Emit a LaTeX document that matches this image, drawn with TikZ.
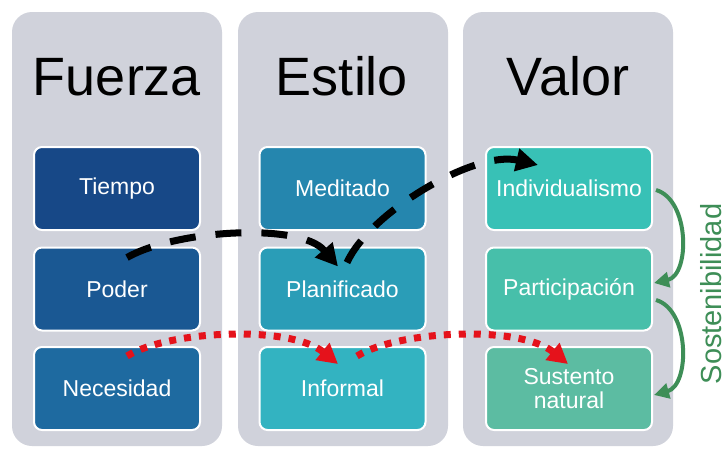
\documentclass[tikz,border=0pt]{standalone}
\usepackage{fontspec}
\setmainfont{Liberation Sans}
\usetikzlibrary{arrows.meta}
\definecolor{colgray}{HTML}{D0D2DB}
\definecolor{bA}{HTML}{174887}
\definecolor{bB}{HTML}{1A5893}
\definecolor{bC}{HTML}{1E6AA0}
\definecolor{bD}{HTML}{2586AE}
\definecolor{bE}{HTML}{2A9DB7}
\definecolor{bF}{HTML}{33B3C1}
\definecolor{bG}{HTML}{38C1B6}
\definecolor{bH}{HTML}{47BFAA}
\definecolor{bI}{HTML}{5CBCA2}
\definecolor{sgreen}{HTML}{3E8E57}
\definecolor{dred}{HTML}{E5121B}
\tikzset{
  colbox/.style={fill=colgray, rounded corners=20pt, minimum width=210pt, minimum height=434pt, inner sep=0pt},
  itembox/.style={fill=#1, draw=white, line width=2pt, rounded corners=8pt, minimum width=166pt, minimum height=83pt, inner sep=0pt, text=white, font=\fontsize{23}{24}\selectfont, align=center},
  title/.style={anchor=base, font=\fontsize{54}{60}\selectfont},
  blackdash/.style={line width=7pt, dash pattern=on 26pt off 20pt, -{Triangle[length=22pt,width=22pt]}},
  reddot/.style={dred, line width=7pt, dash pattern=on 7pt off 8pt, -{Triangle[length=20pt,width=21pt]}},
  greenarc/.style={sgreen, line width=4pt, -{Triangle[length=15pt,width=15pt]}}
}
\begin{document}
\begin{tikzpicture}[x=1pt,y=-1pt]
\useasboundingbox (0,0) rectangle (726,448);
\fill[white] (0,0) rectangle (726,448);
\node[colbox] (c1) at (117,229) {};
\node[colbox] (c2) at (343,229) {};
\node[colbox] (c3) at (568,229) {};
\node[title] (t1) at (117,95) {Fuerza};
\node[title] (t2) at (342,95) {Estilo};
\node[title] (t3) at (568,95) {Valor};
\node[itembox=bA] (tiempo) at (117,188.5) {Tiempo};
\node[itembox=bB] (poder) at (117,289) {Poder};
\node[itembox=bC] (necesidad) at (117,388.5) {Necesidad};
\node[itembox=bD] (meditado) at (342.5,188.5) {Meditado};
\node[itembox=bE] (planif) at (342.5,289) {Planificado};
\node[itembox=bF] (informal) at (342.5,388.5) {Informal};
\node[itembox=bG] (indiv) at (569,188.5) {Individualismo};
\node[itembox=bH] (partic) at (569,289) {Participación};
\node[itembox=bI] (sustento) at (569,388.5) {Sustento\\natural};
\node[rotate=90, anchor=base, text=sgreen, inner sep=0pt, font=\fontsize{29}{32}\selectfont] (sost) at (721,294) {Sostenibilidad};
% black dashed
\draw[blackdash] ([shift={(10,11)}]poder.north) .. controls (175,230) and (300,222) .. ([shift={(-4.5,20)}]planif.north);
\draw[blackdash] ([shift={(4.5,16)}]planif.north) .. controls (370,212) and (475,150) .. ([shift={(-31,19)}]indiv.north);
% red dotted
\draw[reddot] ([shift={(10,10)}]necesidad.north) .. controls (170,330) and (290,325) .. ([shift={(-4.5,18)}]informal.north);
\draw[reddot] ([shift={(14.5,10)}]informal.north) .. controls (400,330) and (520,325) .. ([shift={(-1,18)}]sustento.north);
% green arcs
\draw[greenarc] ([shift={(3,1.5)}]indiv.east) .. controls (690,200) and (690,275) .. ([shift={(1,-6)}]partic.east);
\draw[greenarc] ([shift={(3,11)}]partic.east) .. controls (690,310) and (690,385) .. ([shift={(1,6.5)}]sustento.east);
\end{tikzpicture}
\end{document}
